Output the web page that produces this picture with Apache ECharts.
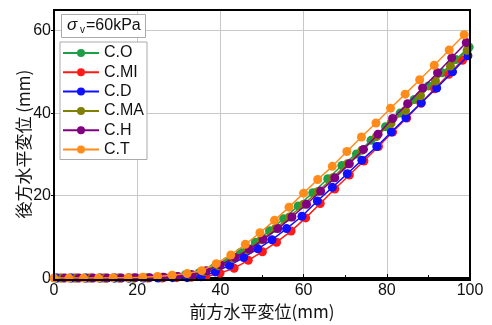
<!DOCTYPE html>
<html>
<head>
<meta charset="utf-8">
<script src="https://cdn.jsdelivr.net/npm/echarts@6/dist/echarts.min.js"></script>
<style>
  html, body { margin: 0; padding: 0; background: #fff; }
  #chart { width: 492px; height: 325px; }
</style>
</head>
<body>
<div id="chart"></div>
<script>
// series names
const names = ['C.O', 'C.MI', 'C.D', 'C.MA', 'C.H', 'C.T']
const colors = ['#1f9e48', '#ff1a1a', '#1010ff', '#808000', '#800080', '#ff8c1a']

// front horizontal displacement (mm) per series
const xO  = [0.8, 4.3, 7.8, 11.2, 14.6, 18.0, 21.4, 24.8, 28.2, 31.6, 34.9, 38.2, 41.5, 44.8, 48.4, 51.8, 55.2, 58.7, 62.2, 65.8, 69.2, 72.7, 76.2, 79.7, 83.2, 86.6, 90.0, 93.3, 96.6, 99.8]
const yO  = [0, 0, 0, 0, 0, 0, 0.1, 0.2, 0.4, 0.8, 1.3, 2.3, 4.0, 6.2, 8.7, 11.5, 14.4, 17.5, 20.7, 24.1, 27.3, 30.1, 33.4, 36.7, 40.0, 43.3, 46.6, 49.8, 53.0, 56.0]
const xMI = [1.5, 5.0, 8.5, 12.0, 15.5, 19.0, 22.5, 26.0, 29.5, 33.0, 36.5, 39.9, 43.3, 46.7, 50.1, 53.5, 57.0, 60.5, 64.0, 67.5, 71.0, 74.5, 78.0, 81.4, 84.8, 88.2, 91.5, 94.9, 98.2]
const yMI = [0, 0, 0, 0, 0, 0, 0, 0, 0.1, 0.2, 0.4, 1.2, 2.4, 4.3, 6.4, 8.7, 11.4, 14.6, 18.1, 21.6, 25.0, 28.4, 31.9, 35.4, 38.8, 42.4, 45.9, 49.4, 52.8]
const xD  = [0.5, 4.0, 7.5, 11.0, 14.5, 18.0, 21.5, 25.0, 28.5, 32.0, 35.4, 38.8, 42.2, 45.6, 49.0, 52.4, 55.9, 59.6, 63.3, 66.9, 70.5, 74.0, 77.6, 81.1, 84.6, 88.3, 92.0, 95.8, 99.5]
const yD  = [0, 0, 0, 0, 0, 0, 0, 0, 0.1, 0.1, 0.3, 1.5, 3.1, 5.0, 7.1, 9.3, 12.0, 15.0, 18.7, 22.0, 25.3, 28.6, 31.9, 35.4, 38.9, 42.5, 46.1, 50.0, 53.9]
const xMA = [2.0, 5.5, 9.0, 12.4, 15.8, 19.2, 22.6, 26.0, 29.4, 32.8, 36.2, 39.6, 43.0, 46.4, 49.8, 53.2, 56.6, 60.0, 63.5, 67.0, 70.5, 74.0, 77.5, 81.0, 84.5, 88.1, 91.7, 95.3, 99.3]
const yMA = [0, 0, 0, 0, 0, 0, 0.1, 0.2, 0.4, 0.9, 1.6, 3.0, 4.8, 6.9, 9.3, 12.0, 14.8, 17.9, 21.0, 24.3, 27.7, 31.0, 34.3, 37.5, 40.6, 44.2, 47.8, 51.4, 55.2]
const xH  = [2.6, 6.0, 9.4, 12.8, 16.2, 19.6, 23.0, 26.4, 29.8, 33.2, 36.6, 40.0, 43.5, 47.0, 50.3, 53.8, 57.2, 60.7, 64.1, 67.5, 71.0, 74.4, 77.9, 81.4, 85.0, 88.6, 92.2, 95.6, 99.1]
const yH  = [0, 0, 0, 0, 0, 0.1, 0.1, 0.2, 0.4, 0.8, 1.8, 3.2, 5.0, 7.0, 9.4, 12.0, 14.8, 17.9, 21.1, 24.3, 27.7, 31.2, 34.9, 38.7, 42.3, 46.1, 49.8, 53.4, 57.1]
const xT  = [0, 3.6, 7.1, 10.7, 14.2, 17.8, 21.3, 24.9, 28.4, 32.0, 35.5, 39.0, 42.5, 46.0, 49.5, 53.0, 56.5, 60.0, 63.4, 66.9, 70.4, 73.9, 77.4, 80.9, 84.4, 87.9, 91.4, 95.0, 98.6]
const yT  = [0, 0, 0, 0, 0.1, 0.1, 0.2, 0.4, 0.7, 1.1, 1.8, 3.5, 5.6, 8.2, 11.0, 14.0, 17.2, 20.6, 23.9, 27.1, 30.7, 34.2, 37.6, 41.2, 44.6, 48.1, 51.6, 55.3, 59.0]

const xs = [xO, xMI, xD, xMA, xH, xT]
const ys = [yO, yMI, yD, yMA, yH, yT]

const font = '"Liberation Sans", Arial, sans-serif'
const cjk = '"Noto Sans CJK JP", sans-serif'

const chart = echarts.init(document.getElementById('chart'))

const series = names.map((name, i) => ({
  name: name,
  type: 'line',
  data: xs[i].map((x, j) => [x, ys[i][j]]),
  symbol: 'circle',
  symbolSize: 9,
  showSymbol: true,
  lineStyle: { color: colors[i], width: 1.5 },
  itemStyle: { color: colors[i] },
  z: 2 + i,
}))

chart.setOption({
  animation: false,
  backgroundColor: '#fff',
  title: {
    text: '{s|σ}{sub| v}{n|=60kPa}',
    left: 61,
    top: 13,
    padding: [3, 5, 3, 6],
    borderColor: '#aaa',
    borderWidth: 1,
    backgroundColor: '#fff',
    textStyle: {
      fontWeight: 'normal',
      rich: {
        s: { fontFamily: font, fontStyle: 'italic', fontWeight: 'normal', fontSize: 17, color: '#111' },
        sub: { fontFamily: font, fontWeight: 'normal', fontSize: 10, color: '#111', verticalAlign: 'bottom', padding: [9, 1, 0, 0] },
        n: { fontFamily: font, fontWeight: 'normal', fontSize: 16, color: '#111' },
      },
    },
  },
  legend: {
    orient: 'vertical',
    left: 60,
    top: 42,
    padding: [3, 3, 2, 2],
    itemGap: 3.3,
    itemWidth: 36,
    itemHeight: 10,
    borderColor: '#aaa',
    borderWidth: 1,
    backgroundColor: '#fff',
    textStyle: { fontFamily: font, fontSize: 16, color: '#111' },
    data: names,
  },
  grid: { left: 54, right: 22, top: 10, bottom: 45 },
  xAxis: {
    type: 'value',
    min: 0,
    max: 100,
    interval: 20,
    name: '前方水平変位(mm)',
    nameLocation: 'middle',
    nameGap: 24,
    nameTextStyle: { fontFamily: cjk, fontSize: 17, color: '#111' },
    axisLine: { show: true, lineStyle: { color: '#000', width: 2 } },
    axisTick: { show: true, inside: true, length: 4, lineStyle: { color: '#000' } },
    minorTick: { show: true, splitNumber: 2, length: 3, lineStyle: { color: '#000' } },
    minorSplitLine: { show: false },
    axisLabel: { fontFamily: font, fontSize: 16, color: '#111', margin: 4 },
    splitLine: { show: true, lineStyle: { color: '#c8c8c8', width: 1 } },
  },
  yAxis: {
    type: 'value',
    min: 0,
    max: 65,
    interval: 20,
    name: '後方水平変位 (mm)',
    nameLocation: 'middle',
    nameGap: 22,
    nameMoveOverlap: false,
    nameTextStyle: { fontFamily: cjk, fontSize: 17, color: '#111' },
    axisLine: { show: true, lineStyle: { color: '#000', width: 2 } },
    axisTick: { show: true, inside: false, length: 3, lineStyle: { color: '#000' } },
    minorSplitLine: { show: false },
    axisLabel: { fontFamily: font, fontSize: 16, color: '#111', margin: 3,
      showMaxLabel: false },
    splitLine: { show: true, lineStyle: { color: '#c8c8c8', width: 1 } },
  },
  graphic: [
    {
      type: 'rect',
      shape: { x: 54, y: 10, width: 416, height: 270 },
      style: { fill: 'none', stroke: '#000', lineWidth: 2 },
      silent: true,
      z: 100,
    },
  ],
  series: series,
})
</script>
</body>
</html>
